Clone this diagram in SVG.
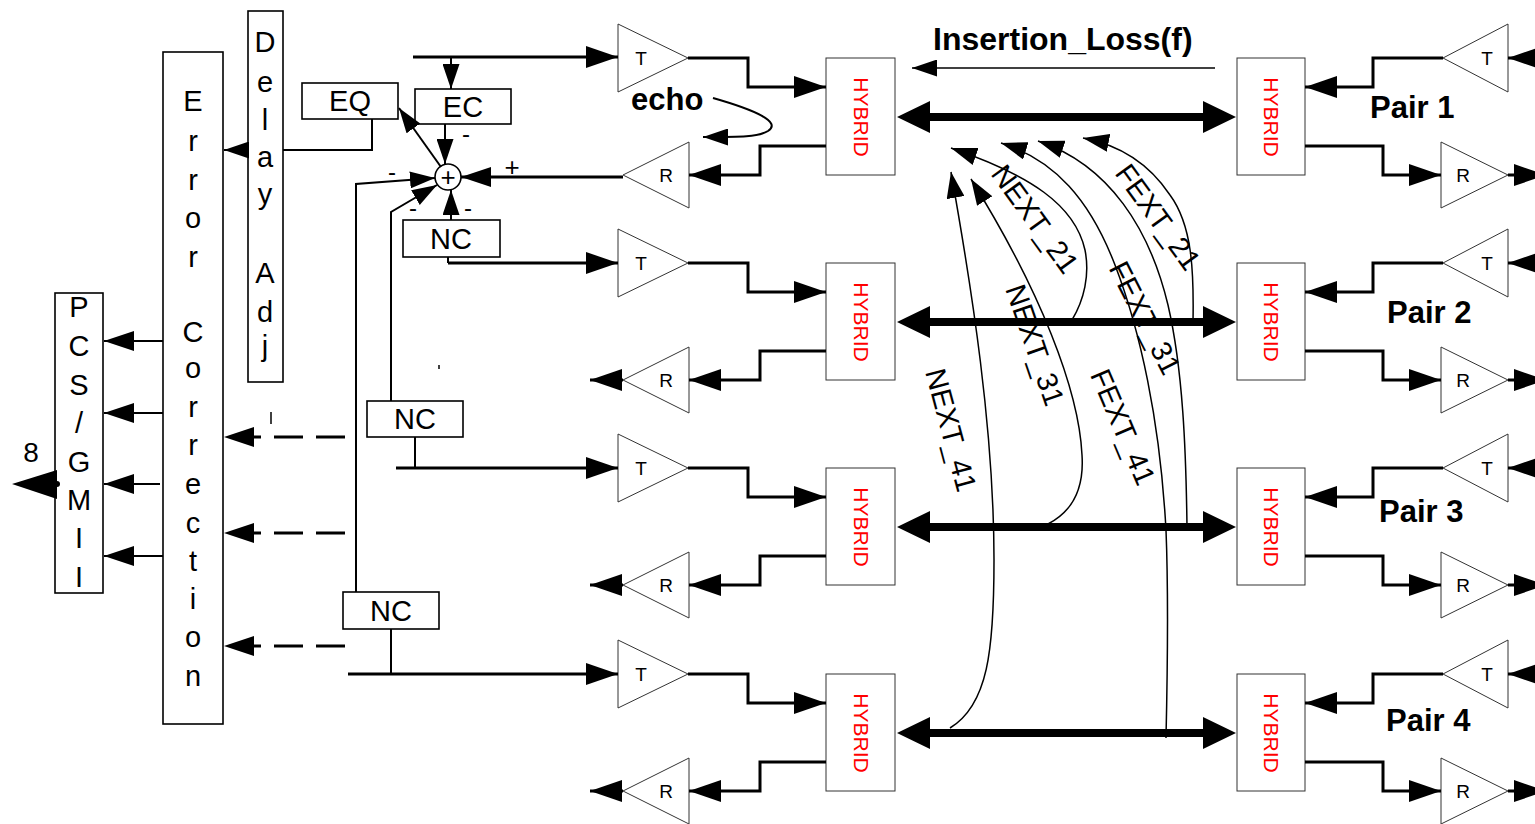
<svg xmlns="http://www.w3.org/2000/svg" width="1535" height="824" viewBox="0 0 1535 824">
<style>
text{font-family:"Liberation Sans",Arial,sans-serif;fill:#000}
.box{fill:#fff;stroke:#000;stroke-width:1.6}
.hy{fill:#fff;stroke:#333;stroke-width:1}
.tri{fill:#fff;stroke:#333;stroke-width:1}
.hyt{fill:#f00;font-size:21px}
.tr{font-size:19px}
.lt{font-size:29px}
.bx{font-size:29px}
.bold{font-weight:bold;font-size:31px}
.xl{font-size:29px}
.w3{fill:none;stroke:#000;stroke-width:3}
.w2{fill:none;stroke:#000;stroke-width:2}
.w1{fill:none;stroke:#000;stroke-width:1.5}
.thick{fill:none;stroke:#000;stroke-width:8}
.dash{fill:none;stroke:#000;stroke-width:3;stroke-dasharray:29 13}
</style>
<defs>
<marker id="m" viewBox="0 0 32 22" refX="32" refY="11" markerWidth="32" markerHeight="22" markerUnits="userSpaceOnUse" orient="auto"><path d="M0,0L32,11L0,22z"/></marker>
<marker id="s" viewBox="0 0 25 17" refX="25" refY="8.5" markerWidth="25" markerHeight="17" markerUnits="userSpaceOnUse" orient="auto"><path d="M0,0L25,8.5L0,17z"/></marker>
<marker id="d" viewBox="0 0 30 20" refX="30" refY="10" markerWidth="30" markerHeight="20" markerUnits="userSpaceOnUse" orient="auto"><path d="M0,0L30,10L0,20z"/></marker>
<marker id="x" viewBox="0 0 26 18" refX="26" refY="9" markerWidth="26" markerHeight="18" markerUnits="userSpaceOnUse" orient="auto"><path d="M0,0L26,9L0,18z"/></marker>
<marker id="b" viewBox="0 0 33 32" refX="0" refY="16" markerWidth="33" markerHeight="32" markerUnits="userSpaceOnUse" orient="auto-start-reverse"><path d="M0,0L33,16L0,32z"/></marker>
</defs>

<g id="pcs-gmii">
<rect class="box" x="55" y="293" width="48" height="300"/>
<g class="lt" text-anchor="middle">
<text x="79" y="317">P</text><text x="79" y="356">C</text><text x="79" y="395">S</text><text x="79" y="433">/</text><text x="79" y="472">G</text><text x="79" y="510">M</text><text x="79" y="548">I</text><text x="79" y="587">I</text>
</g>
</g>
<g id="error-correction">
<rect class="box" x="163" y="52" width="60" height="672"/>
<g class="lt" text-anchor="middle">
<text x="193" y="111">E</text><text x="193" y="151">r</text><text x="193" y="190">r</text><text x="193" y="228">o</text><text x="193" y="267">r</text>
<text x="193" y="342">C</text><text x="193" y="378">o</text><text x="193" y="417">r</text><text x="193" y="455">r</text><text x="193" y="494">e</text><text x="193" y="533">c</text><text x="193" y="571">t</text><text x="193" y="609">i</text><text x="193" y="647">o</text><text x="193" y="686">n</text>
</g>
</g>
<g id="delay-adj">
<rect class="box" x="248" y="11" width="35" height="371"/>
<g class="lt" text-anchor="middle">
<text x="265" y="52">D</text><text x="265" y="92">e</text><text x="265" y="130">l</text><text x="265" y="167">a</text><text x="265" y="204">y</text>
<text x="265" y="283">A</text><text x="265" y="322">d</text><text x="265" y="356">j</text>
</g>
</g>
<g id="eq"><rect class="box" x="302" y="83" width="96" height="36"/><text class="bx" x="350" y="111" text-anchor="middle">EQ</text></g>
<g id="ec"><rect class="box" x="415" y="89" width="96" height="35"/><text class="bx" x="463" y="117" text-anchor="middle">EC</text></g>
<g id="sum"><circle cx="448" cy="177" r="13" fill="#fff" stroke="#000" stroke-width="1.6"/><text x="448" y="186" font-size="26" text-anchor="middle">+</text></g>
<g id="nc2"><rect class="box" x="403" y="220" width="97" height="37"/><text class="bx" x="451" y="249" text-anchor="middle">NC</text></g>
<g id="nc3"><rect class="box" x="367" y="401" width="96" height="36"/><text class="bx" x="415" y="429" text-anchor="middle">NC</text></g>
<g id="nc4"><rect class="box" x="343" y="592" width="96" height="37"/><text class="bx" x="391" y="621" text-anchor="middle">NC</text></g>

<g id="pair1">
<polygon class="tri" points="618,24 688,58 618,92"/><text class="tr" x="641" y="65" text-anchor="middle">T</text>
<rect class="hy" x="826" y="58" width="69" height="117"/><text class="hyt" transform="translate(861,117) rotate(90)" y="7" text-anchor="middle">HYBRID</text>
<polygon class="tri" points="689,142 623,175 689,208"/><text class="tr" x="666" y="182" text-anchor="middle">R</text>
<rect class="hy" x="1237" y="58" width="68" height="117"/><text class="hyt" transform="translate(1271,117) rotate(90)" y="7" text-anchor="middle">HYBRID</text>
<polygon class="tri" points="1508,24 1443,58 1508,92"/><text class="tr" x="1487" y="65" text-anchor="middle">T</text>
<polygon class="tri" points="1441,142 1508,175 1441,208"/><text class="tr" x="1463" y="182" text-anchor="middle">R</text>
<text class="bold" x="1370" y="118">Pair 1</text>
</g>
<g id="pair2">
<polygon class="tri" points="618,229 688,263 618,297"/><text class="tr" x="641" y="270" text-anchor="middle">T</text>
<rect class="hy" x="826" y="263" width="69" height="117"/><text class="hyt" transform="translate(861,322) rotate(90)" y="7" text-anchor="middle">HYBRID</text>
<polygon class="tri" points="689,347 623,380 689,413"/><text class="tr" x="666" y="387" text-anchor="middle">R</text>
<rect class="hy" x="1237" y="263" width="68" height="117"/><text class="hyt" transform="translate(1271,322) rotate(90)" y="7" text-anchor="middle">HYBRID</text>
<polygon class="tri" points="1508,229 1443,263 1508,297"/><text class="tr" x="1487" y="270" text-anchor="middle">T</text>
<polygon class="tri" points="1441,347 1508,380 1441,413"/><text class="tr" x="1463" y="387" text-anchor="middle">R</text>
<text class="bold" x="1387" y="323">Pair 2</text>
</g>
<g id="pair3">
<polygon class="tri" points="618,434 688,468 618,502"/><text class="tr" x="641" y="475" text-anchor="middle">T</text>
<rect class="hy" x="826" y="468" width="69" height="117"/><text class="hyt" transform="translate(861,527) rotate(90)" y="7" text-anchor="middle">HYBRID</text>
<polygon class="tri" points="689,552 623,585 689,618"/><text class="tr" x="666" y="592" text-anchor="middle">R</text>
<rect class="hy" x="1237" y="468" width="68" height="117"/><text class="hyt" transform="translate(1271,527) rotate(90)" y="7" text-anchor="middle">HYBRID</text>
<polygon class="tri" points="1508,434 1443,468 1508,502"/><text class="tr" x="1487" y="475" text-anchor="middle">T</text>
<polygon class="tri" points="1441,552 1508,585 1441,618"/><text class="tr" x="1463" y="592" text-anchor="middle">R</text>
<text class="bold" x="1379" y="522">Pair 3</text>
</g>
<g id="pair4">
<polygon class="tri" points="618,640 688,674 618,708"/><text class="tr" x="641" y="681" text-anchor="middle">T</text>
<rect class="hy" x="826" y="674" width="69" height="117"/><text class="hyt" transform="translate(861,733) rotate(90)" y="7" text-anchor="middle">HYBRID</text>
<polygon class="tri" points="689,758 623,791 689,824"/><text class="tr" x="666" y="798" text-anchor="middle">R</text>
<rect class="hy" x="1237" y="674" width="68" height="117"/><text class="hyt" transform="translate(1271,733) rotate(90)" y="7" text-anchor="middle">HYBRID</text>
<polygon class="tri" points="1508,640 1443,674 1508,708"/><text class="tr" x="1487" y="681" text-anchor="middle">T</text>
<polygon class="tri" points="1441,758 1508,791 1441,824"/><text class="tr" x="1463" y="798" text-anchor="middle">R</text>
<text class="bold" x="1386" y="731">Pair 4</text>
</g>

<g id="connectors">
<path class="w3" d="M688,58H748V87H826" marker-end="url(#m)"/>
<path class="w3" d="M826,146H760V175H689" marker-end="url(#m)"/>
<path class="w3" d="M1443,58H1373V87H1305" marker-end="url(#m)"/>
<path class="w3" d="M1305,146H1383V175H1441" marker-end="url(#m)"/>
<path class="w3" d="M1548,58H1508" marker-end="url(#m)"/>
<path class="w3" d="M1508,175H1546" marker-end="url(#m)"/>
<path class="thick" d="M930,117H1203" marker-start="url(#b)" marker-end="url(#b)"/>

<path class="w3" d="M688,263H748V292H826" marker-end="url(#m)"/>
<path class="w3" d="M826,351H760V380H689" marker-end="url(#m)"/>
<path class="w3" d="M1443,263H1373V292H1305" marker-end="url(#m)"/>
<path class="w3" d="M1305,351H1383V380H1441" marker-end="url(#m)"/>
<path class="w3" d="M1548,263H1508" marker-end="url(#m)"/>
<path class="w3" d="M1508,380H1546" marker-end="url(#m)"/>
<path class="w3" d="M623,380H590" marker-end="url(#m)"/>
<path class="thick" d="M930,322H1203" marker-start="url(#b)" marker-end="url(#b)"/>

<path class="w3" d="M688,468H748V497H826" marker-end="url(#m)"/>
<path class="w3" d="M826,556H760V585H689" marker-end="url(#m)"/>
<path class="w3" d="M1443,468H1373V497H1305" marker-end="url(#m)"/>
<path class="w3" d="M1305,556H1383V585H1441" marker-end="url(#m)"/>
<path class="w3" d="M1548,468H1508" marker-end="url(#m)"/>
<path class="w3" d="M1508,585H1546" marker-end="url(#m)"/>
<path class="w3" d="M623,585H590" marker-end="url(#m)"/>
<path class="thick" d="M930,527H1203" marker-start="url(#b)" marker-end="url(#b)"/>

<path class="w3" d="M688,674H748V703H826" marker-end="url(#m)"/>
<path class="w3" d="M826,762H760V791H689" marker-end="url(#m)"/>
<path class="w3" d="M1443,674H1373V703H1305" marker-end="url(#m)"/>
<path class="w3" d="M1305,762H1383V791H1441" marker-end="url(#m)"/>
<path class="w3" d="M1548,674H1508" marker-end="url(#m)"/>
<path class="w3" d="M1508,791H1546" marker-end="url(#m)"/>
<path class="w3" d="M623,791H590" marker-end="url(#m)"/>
<path class="thick" d="M930,733H1203" marker-start="url(#b)" marker-end="url(#b)"/>

<path class="w3" d="M413,57H618" marker-end="url(#m)"/>
<path class="w2" d="M448,257V263"/>
<path class="w3" d="M448,263H618" marker-end="url(#m)"/>
<path class="w2" d="M415,437V468"/>
<path class="w3" d="M396,468H618" marker-end="url(#m)"/>
<path class="w2" d="M391,629V674"/>
<path class="w3" d="M348,674H618" marker-end="url(#m)"/>

<path class="w2" d="M451,57V89" marker-end="url(#s)"/>
<path class="w2" d="M445,124V164" marker-end="url(#s)"/>
<path class="w3" d="M623,177H461" marker-end="url(#d)"/>
<path class="w2" d="M451,220V190" marker-end="url(#s)"/>
<path class="w2" d="M441,167L399,108" marker-end="url(#s)"/>
<path class="w2" d="M356,592V184L435,178" marker-end="url(#s)"/>
<path class="w2" d="M391,401V212L437,185" marker-end="url(#s)"/>
<path class="w2" d="M372,119V150H283"/>
<path class="w2" d="M248,150H224" marker-end="url(#s)"/>

<path class="dash" d="M345,437H224" marker-end="url(#d)"/>
<path class="dash" d="M345,533H224" marker-end="url(#d)"/>
<path class="dash" d="M345,646H224" marker-end="url(#d)"/>

<path class="w2" d="M163,341H104" marker-end="url(#d)"/>
<path class="w2" d="M163,413H104" marker-end="url(#d)"/>
<path class="w2" d="M160,484H104" marker-end="url(#d)"/>
<path class="w2" d="M163,556H104" marker-end="url(#d)"/>
<path class="w1" d="M133,336V347"/>
<polygon points="12,484 57,470 57,499"/>
<circle cx="57" cy="484" r="3"/>

<path class="w2" d="M713,98C755,110 782,122 768,131C758,137 742,137 703,137" marker-end="url(#s)"/>
<path class="w1" d="M1215,68H912" marker-end="url(#s)"/>

<path class="w1" d="M950,728C988,705 994,650 994,560C994,430 972,290 951,172" marker-end="url(#x)"/>
<path class="w1" d="M1048,524C1075,510 1084,485 1082,455C1079,390 1040,290 971,179" marker-end="url(#x)"/>
<path class="w1" d="M1072,320C1084,300 1090,275 1085,250C1075,205 1030,175 951,148" marker-end="url(#x)"/>
<path class="w1" d="M1193,322C1194,270 1192,225 1170,195C1150,165 1120,145 1083,138" marker-end="url(#x)"/>
<path class="w1" d="M1187,527C1186,450 1183,370 1168,305C1150,230 1110,165 1038,141" marker-end="url(#x)"/>
<path class="w1" d="M1166,738C1168,650 1168,580 1166,530C1160,420 1140,330 1115,265C1090,200 1055,160 1001,143" marker-end="url(#x)"/>
<path class="w1" d="M271,412V424"/>
<path class="w1" d="M439,365V369"/>
</g>

<g id="labels">
<text class="bold" x="933" y="50" font-size="32" style="font-size:32px">Insertion_Loss(f)</text>
<text class="bold" x="631" y="110">echo</text>
<text x="31" y="462" font-size="28" text-anchor="middle">8</text>
<text x="512" y="176" font-size="26" text-anchor="middle">+</text>
<text x="466" y="142" font-size="24" text-anchor="middle">-</text>
<text x="392" y="180" font-size="24" text-anchor="middle">-</text>
<text x="413" y="216" font-size="24" text-anchor="middle">-</text>
<text x="468" y="216" font-size="24" text-anchor="middle">-</text>
<text class="xl" transform="translate(1035,219) rotate(54)" y="10" text-anchor="middle">NEXT_21</text>
<text class="xl" transform="translate(1158,217) rotate(54)" y="10" text-anchor="middle">FEXT_21</text>
<text class="xl" transform="translate(1035,345) rotate(71)" y="10" text-anchor="middle">NEXT_31</text>
<text class="xl" transform="translate(1145,318) rotate(63)" y="10" text-anchor="middle">FEXT_31</text>
<text class="xl" transform="translate(1123,427) rotate(67)" y="10" text-anchor="middle">FEXT_41</text>
<text class="xl" transform="translate(951,430) rotate(75)" y="10" text-anchor="middle">NEXT_41</text>
</g>
</svg>
